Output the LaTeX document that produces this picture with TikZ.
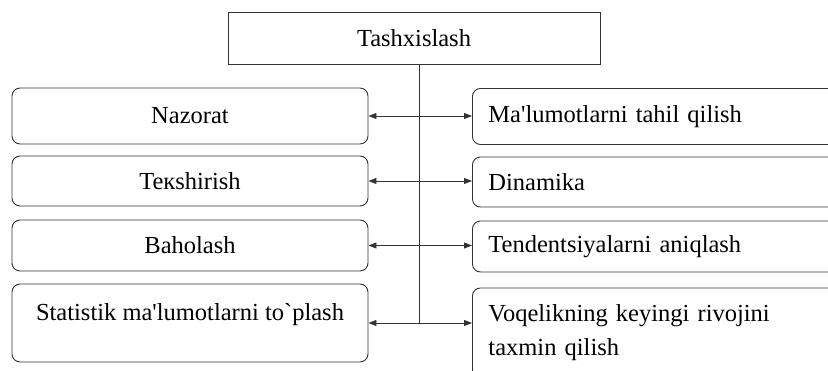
\documentclass[tikz,border=0pt]{standalone}
\usepackage{fontspec}
\setmainfont{Liberation Serif}
\usetikzlibrary{calc,positioning,arrows.meta}

\begin{document}
\begin{tikzpicture}[x=1pt, y=-1pt,
		box/.style={draw=black!80, line width=0.9pt, inner ysep=0pt, font=\fontsize{24.5}{34}\selectfont},
		leftbox/.style={box, rounded corners=8pt, minimum width=356pt, inner xsep=0pt, align=center},
		rightbox/.style={box, rounded corners=8pt, anchor=west, text width=348pt, inner xsep=16pt, align=left},
		link/.style={line width=0.9pt, color=black!80, {Triangle[length=8pt,width=6pt]}-{Triangle[length=8pt,width=6pt]}}]
		%%%%% START %%%%%
		\clip (0, 0) rectangle (828, 371);
		
		\node[box, minimum width=372pt, minimum height=52pt] (top) at (414, 38) {Tashxislash};
		
		\node[leftbox, minimum height=56pt] (l1) at (190, 116) {Nazorat};
		\node[leftbox, minimum height=50pt] (l2) at (190, 181) {Teкshirish};
		\node[leftbox, minimum height=51pt] (l3) at (190, 245.5) {Baholash};
		\node[leftbox, minimum height=78pt] (l4) at (190, 323) {Statistik ma\textquotesingle lumotlarni to\textasciigrave plash\\[-22pt] \strut};
		
		\node[rightbox, minimum height=56pt] (r1) at (472, 116.5) {Ma\textquotesingle lumotlarni tahil qilish};
		\node[rightbox, minimum height=50pt] (r2) at (472, 182) {Dinamika};
		\node[rightbox, minimum height=51pt] (r3) at (472, 246.5) {Tendentsiyalarni aniqlash};
		\node[rightbox, minimum height=90pt] (r4) at (472, 333) {Voqelikning keyingi rivojini\\ taxmin qilish};
		
		\coordinate (trunk) at ($(top.south)+(5, 0)$);
		\draw[line width=0.9pt, color=black!80] (trunk) -- (trunk |- l4.east);
		
		\draw[link] (l1.east) -- (l1.east -| r1.west);
		\draw[link] (l2.east) -- (l2.east -| r2.west);
		\draw[link] (l3.east) -- (l3.east -| r3.west);
		\draw[link] (l4.east) -- (l4.east -| r4.west);
		%%%%% END %%%%%
	\end{tikzpicture}
\end{document}
